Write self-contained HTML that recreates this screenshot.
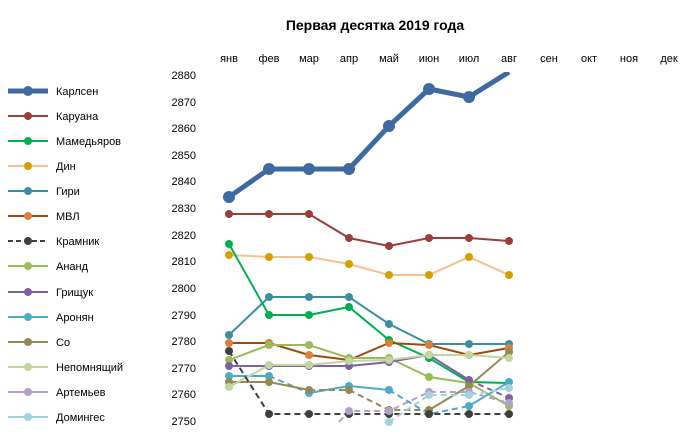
<!DOCTYPE html><html><head><meta charset="utf-8"><style>body{margin:0;background:#fff}svg{display:block;font-family:"Liberation Sans",sans-serif}</style></head><body>
<svg width="694" height="435" viewBox="0 0 694 435">
<text x="375" y="30" text-anchor="middle" font-size="14" font-weight="bold">Первая десятка 2019 года</text>
<g font-size="11" text-anchor="middle" fill="#000">
<text x="229" y="62">янв</text><text x="269" y="62">фев</text><text x="309" y="62">мар</text><text x="349" y="62">апр</text><text x="389" y="62">май</text><text x="429" y="62">июн</text><text x="469" y="62">июл</text><text x="509" y="62">авг</text><text x="549" y="62">сен</text><text x="589" y="62">окт</text><text x="629" y="62">ноя</text><text x="669" y="62">дек</text>
</g>
<g font-size="11" text-anchor="end">
<text x="196" y="79">2880</text><text x="196" y="106">2870</text><text x="196" y="132">2860</text><text x="196" y="159">2850</text><text x="196" y="185">2840</text><text x="196" y="212">2830</text><text x="196" y="239">2820</text><text x="196" y="265">2810</text><text x="196" y="292">2800</text><text x="196" y="319">2790</text><text x="196" y="345">2780</text><text x="196" y="372">2770</text><text x="196" y="398">2760</text><text x="196" y="425">2750</text>
</g>
<defs><clipPath id="c"><rect x="0" y="72" width="694" height="363"/></clipPath></defs>
<g clip-path="url(#c)" fill="none" stroke-linejoin="round">
<polyline stroke="#3e6aa0" stroke-width="5" points="229,197 269,169 309,169 349,169 389,126 429,89 469,97 509,72"/>
<g fill="#3e6aa0"><circle cx="229" cy="197" r="6"/><circle cx="269" cy="169" r="6"/><circle cx="309" cy="169" r="6"/><circle cx="349" cy="169" r="6"/><circle cx="389" cy="126" r="6"/><circle cx="429" cy="89" r="6"/><circle cx="469" cy="97" r="6"/></g>
</g>
<g fill="none" stroke-width="2">
<polyline stroke="#9c3d3a" points="229,214 269,214 309,214 349,238 389,246 429,238 469,238 509,241"/>
<polyline stroke="#f8c08e" points="229,255 269,257 309,257 349,264 389,275 429,275 469,257 509,275"/>
<polyline stroke="#3d8ea0" points="229,335 269,297 309,297 349,297 389,324 429,344 469,344 509,344"/>
<polyline stroke="#00b050" points="229,244 269,315 309,315 349,307 389,340 429,358 469,382 509,383"/>
<polyline stroke="#a0490f" points="229,343 269,343 309,355 349,360 389,343 429,345 469,355 509,348"/>
<polyline stroke="#9bbb59" points="229,360 269,345 309,345 349,358 389,358 429,377 469,383 509,406"/>
<polyline stroke="#7f5fa5" points="229,366 269,366 309,366 349,366 389,362 429,355 469,380"/>
<polyline stroke="#7f5fa5" stroke-dasharray="6,4" points="469,380 509,398"/>
<polyline stroke="#4bacc6" points="229,376 269,376"/>
<polyline stroke="#4bacc6" stroke-dasharray="6,4" points="269,376 309,393"/>
<polyline stroke="#4bacc6" points="309,393 349,386 389,390"/>
<polyline stroke="#4bacc6" stroke-dasharray="6,4" points="389,390 429,414 469,406"/>
<polyline stroke="#4bacc6" points="469,406 509,382"/>
<polyline stroke="#948a54" points="229,382 269,382 309,390"/>
<polyline stroke="#948a54" stroke-dasharray="6,4" points="309,390 349,390 389,410 429,410"/>
<polyline stroke="#948a54" points="429,410 469,386 509,352"/>
<polyline stroke="#c4d6a0" points="229,387 269,365 309,365 349,361 389,360 429,355 469,355 509,358"/>
<polyline stroke="#403f3a" stroke-dasharray="6,4" points="229,351 269,414 309,414 349,414 389,414 429,414 469,414 509,414"/>
<polyline stroke="#b3a2c7" stroke-dasharray="6,4" points="339,422 349,411 389,411 429,392 469,392 509,403"/>
<polyline stroke="#a5d0e0" stroke-dasharray="6,4" points="389,422 429,395 469,395 509,388"/>
</g>
<g>
<g fill="#9c3d3a"><circle cx="229" cy="214" r="4"/><circle cx="269" cy="214" r="4"/><circle cx="309" cy="214" r="4"/><circle cx="349" cy="238" r="4"/><circle cx="389" cy="246" r="4"/><circle cx="429" cy="238" r="4"/><circle cx="469" cy="238" r="4"/><circle cx="509" cy="241" r="4"/></g>
<g fill="#d4a000"><circle cx="229" cy="255" r="4"/><circle cx="269" cy="257" r="4"/><circle cx="309" cy="257" r="4"/><circle cx="349" cy="264" r="4"/><circle cx="389" cy="275" r="4"/><circle cx="429" cy="275" r="4"/><circle cx="469" cy="257" r="4"/><circle cx="509" cy="275" r="4"/></g>
<g fill="#3d8ea0"><circle cx="229" cy="335" r="4"/><circle cx="269" cy="297" r="4"/><circle cx="309" cy="297" r="4"/><circle cx="349" cy="297" r="4"/><circle cx="389" cy="324" r="4"/><circle cx="429" cy="344" r="4"/><circle cx="469" cy="344" r="4"/><circle cx="509" cy="344" r="4"/></g>
<g fill="#00b050"><circle cx="229" cy="244" r="4"/><circle cx="269" cy="315" r="4"/><circle cx="309" cy="315" r="4"/><circle cx="349" cy="307" r="4"/><circle cx="389" cy="340" r="4"/><circle cx="429" cy="358" r="4"/></g>
<g fill="#d9803c"><circle cx="229" cy="343" r="4"/><circle cx="269" cy="343" r="4"/><circle cx="309" cy="355" r="4"/><circle cx="349" cy="360" r="4"/><circle cx="389" cy="343" r="4"/><circle cx="429" cy="345" r="4"/><circle cx="469" cy="355" r="4"/><circle cx="509" cy="348" r="4"/></g>
<g fill="#9bbb59"><circle cx="229" cy="360" r="4"/><circle cx="269" cy="345" r="4"/><circle cx="309" cy="345" r="4"/><circle cx="349" cy="358" r="4"/><circle cx="389" cy="358" r="4"/><circle cx="429" cy="377" r="4"/><circle cx="469" cy="383" r="4"/><circle cx="509" cy="406" r="4"/></g>
<g fill="#7f5fa5"><circle cx="229" cy="366" r="4"/><circle cx="269" cy="366" r="4"/><circle cx="309" cy="366" r="4"/><circle cx="349" cy="366" r="4"/><circle cx="389" cy="362" r="4"/><circle cx="429" cy="355" r="4"/><circle cx="469" cy="380" r="4"/><circle cx="509" cy="398" r="4"/></g>
<g fill="#4bacc6"><circle cx="229" cy="376" r="4"/><circle cx="269" cy="376" r="4"/><circle cx="309" cy="393" r="4"/><circle cx="349" cy="386" r="4"/><circle cx="389" cy="390" r="4"/><circle cx="429" cy="414" r="4"/><circle cx="469" cy="406" r="4"/><circle cx="509" cy="382" r="4"/></g>
<g fill="#948a54"><circle cx="229" cy="382" r="4"/><circle cx="269" cy="382" r="4"/><circle cx="309" cy="390" r="4"/><circle cx="349" cy="390" r="4"/><circle cx="389" cy="410" r="4"/><circle cx="429" cy="410" r="4"/><circle cx="469" cy="386" r="4"/><circle cx="509" cy="352" r="4"/></g>
<g fill="#c4d6a0"><circle cx="229" cy="387" r="4"/><circle cx="269" cy="365" r="4"/><circle cx="309" cy="365" r="4"/><circle cx="349" cy="361" r="4"/><circle cx="389" cy="360" r="4"/><circle cx="429" cy="355" r="4"/><circle cx="469" cy="355" r="4"/><circle cx="509" cy="358" r="4"/></g>
<g fill="#403f3a"><circle cx="229" cy="351" r="4"/><circle cx="269" cy="414" r="4"/><circle cx="309" cy="414" r="4"/><circle cx="349" cy="414" r="4"/><circle cx="389" cy="414" r="4"/><circle cx="429" cy="414" r="4"/><circle cx="469" cy="414" r="4"/><circle cx="509" cy="414" r="4"/></g>
<g fill="#b3a2c7"><circle cx="349" cy="411" r="4"/><circle cx="389" cy="411" r="4"/><circle cx="429" cy="392" r="4"/><circle cx="469" cy="392" r="4"/><circle cx="509" cy="403" r="4"/></g>
<g fill="#a5d0e0"><circle cx="389" cy="422" r="4"/><circle cx="429" cy="395" r="4"/><circle cx="469" cy="395" r="4"/><circle cx="509" cy="388" r="4"/></g>
</g>
<g font-size="11" fill="#000">
<line x1="8" y1="91" x2="48" y2="91" stroke="#3e6aa0" stroke-width="5"/><circle cx="28" cy="91" r="5" fill="#3e6aa0"/><text x="56" y="95">Карлсен</text>
<line x1="8" y1="116" x2="48" y2="116" stroke="#9c3d3a" stroke-width="2"/><circle cx="28" cy="116" r="4" fill="#9c3d3a"/><text x="56" y="120">Каруана</text>
<line x1="8" y1="141" x2="48" y2="141" stroke="#00b050" stroke-width="2"/><circle cx="28" cy="141" r="4" fill="#00b050"/><text x="56" y="145">Мамедьяров</text>
<line x1="8" y1="166" x2="48" y2="166" stroke="#f8c08e" stroke-width="2"/><circle cx="28" cy="166" r="4" fill="#d4a000"/><text x="56" y="170">Дин</text>
<line x1="8" y1="191" x2="48" y2="191" stroke="#3d8ea0" stroke-width="2"/><circle cx="28" cy="191" r="4" fill="#3d8ea0"/><text x="56" y="195">Гири</text>
<line x1="8" y1="216" x2="48" y2="216" stroke="#a0490f" stroke-width="2"/><circle cx="28" cy="216" r="4" fill="#d9803c"/><text x="56" y="220">МВЛ</text>
<line x1="8" y1="241" x2="48" y2="241" stroke="#403f3a" stroke-width="2" stroke-dasharray="5,3"/><circle cx="28" cy="241" r="4" fill="#403f3a"/><text x="56" y="245">Крамник</text>
<line x1="8" y1="266" x2="48" y2="266" stroke="#9bbb59" stroke-width="2"/><circle cx="28" cy="266" r="4" fill="#9bbb59"/><text x="56" y="270">Ананд</text>
<line x1="8" y1="292" x2="48" y2="292" stroke="#7f5fa5" stroke-width="2"/><circle cx="28" cy="292" r="4" fill="#7f5fa5"/><text x="56" y="296">Грищук</text>
<line x1="8" y1="317" x2="48" y2="317" stroke="#4bacc6" stroke-width="2"/><circle cx="28" cy="317" r="4" fill="#4bacc6"/><text x="56" y="321">Аронян</text>
<line x1="8" y1="342" x2="48" y2="342" stroke="#948a54" stroke-width="2"/><circle cx="28" cy="342" r="4" fill="#948a54"/><text x="56" y="346">Со</text>
<line x1="8" y1="367" x2="48" y2="367" stroke="#c4d6a0" stroke-width="2"/><circle cx="28" cy="367" r="4" fill="#c4d6a0"/><text x="56" y="371">Непомнящий</text>
<line x1="8" y1="392" x2="48" y2="392" stroke="#b3a2c7" stroke-width="2"/><circle cx="28" cy="392" r="4" fill="#b3a2c7"/><text x="56" y="396">Артемьев</text>
<line x1="8" y1="417" x2="48" y2="417" stroke="#a5d0e0" stroke-width="2"/><circle cx="28" cy="417" r="4" fill="#a5d0e0"/><text x="56" y="421">Домингес</text>
</g>
</svg></body></html>
